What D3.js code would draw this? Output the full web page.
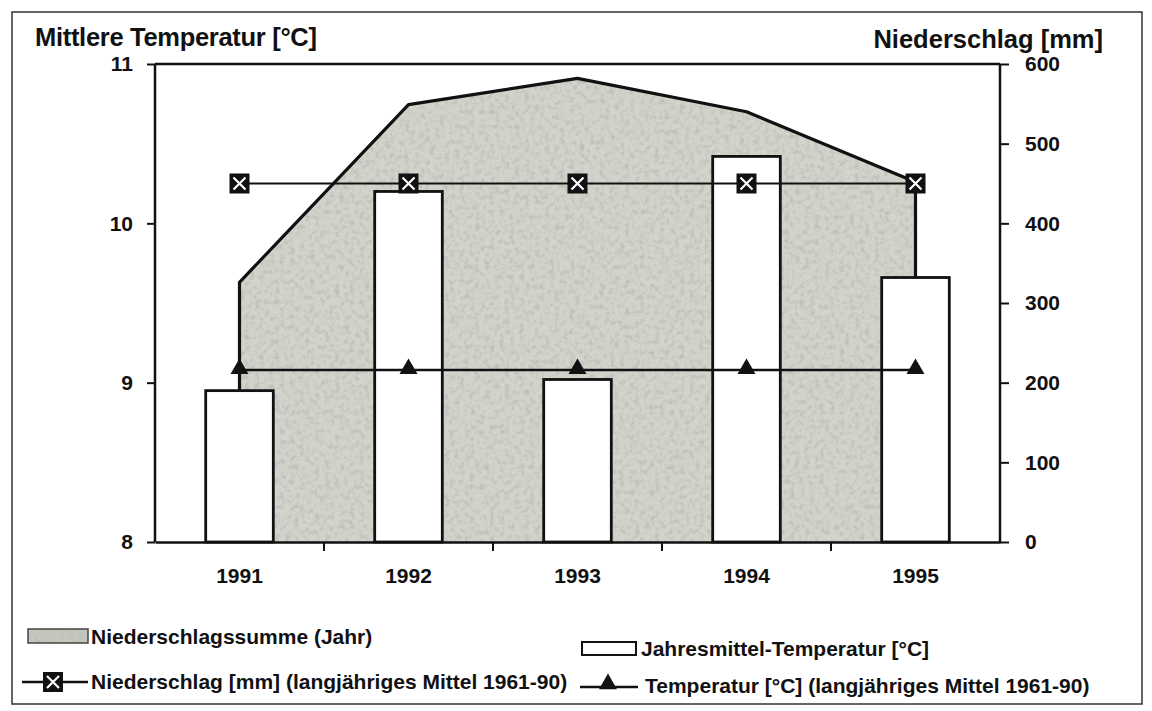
<!DOCTYPE html>
<html>
<head>
<meta charset="utf-8">
<script src="https://cdn.jsdelivr.net/npm/d3@7"></script>
<style>
  body { margin: 0; background: #fff; }
  text { font-family: "Liberation Sans", Arial, sans-serif; font-weight: bold; fill: #111; }
</style>
</head>
<body>
<div id="vis"></div>
<script>
// data
var years = ["1991", "1992", "1993", "1994", "1995"];
var precipSum = [326, 549, 582, 540, 452];        // Niederschlagssumme (Jahr), mm
var tempMean = [8.95, 10.2, 9.02, 10.42, 9.66];  // Jahresmittel-Temperatur, °C
var precipLongTerm = [450, 450, 450, 450, 450];  // Niederschlag 1961-90, mm
var tempLongTerm = [9.08, 9.08, 9.08, 9.08, 9.08]; // Temperatur 1961-90, °C
var tempTicks = [8, 9, 10, 11];
var precipTicks = [0, 100, 200, 300, 400, 500, 600];

var width = 1152, height = 711;
var margin = {top: 64, right: 152, bottom: 169, left: 155};

var svg = d3.select("#vis").append("svg")
  .attr("width", width)
  .attr("height", height);

// grainy grey fill like the scanned print
var defs = svg.append("defs");
var filt = defs.append("filter").attr("id", "grain")
  .attr("x", 0).attr("y", 0).attr("width", 1).attr("height", 1);
filt.append("feTurbulence").attr("type", "fractalNoise")
  .attr("baseFrequency", 0.2).attr("numOctaves", 3).attr("seed", 4).attr("result", "n");
filt.append("feColorMatrix").attr("in", "n").attr("type", "matrix")
  .attr("values", "0 0 0 0 0.50  0 0 0 0 0.52  0 0 0 0 0.48  2.6 0 0 0 -1.15")
  .attr("result", "c");
filt.append("feComposite").attr("in", "c").attr("in2", "SourceGraphic")
  .attr("operator", "in").attr("result", "t");
var merge = filt.append("feMerge");
merge.append("feMergeNode").attr("in", "SourceGraphic");
merge.append("feMergeNode").attr("in", "t");

// outer frame
svg.append("rect")
  .attr("x", 12).attr("y", 12).attr("width", 1130).attr("height", 692)
  .attr("fill", "none").attr("stroke", "#333").attr("stroke-width", 1.5);

var x0 = margin.left, x1 = width - margin.right;
var yTop = margin.top, yBot = height - margin.bottom;

var x = d3.scaleBand().domain(years).range([x0, x1])
  .paddingInner(0.6).paddingOuter(0.3);
var step = x.step();
var cx = function(y) { return x(y) + x.bandwidth() / 2; };

var yT = d3.scaleLinear().domain([8, 11]).range([yBot, yTop]);
var yP = d3.scaleLinear().domain([0, 600]).range([yBot, yTop]);

var rows = years.map(function(y, i) {
  return {year: y, p: precipSum[i], t: tempMean[i], pl: precipLongTerm[i], tl: tempLongTerm[i]};
});

// precipitation area
var area = d3.area()
  .x(function(d) { return cx(d.year); })
  .y0(yP(0))
  .y1(function(d) { return yP(d.p); });

svg.append("path")
  .datum(rows)
  .attr("d", area)
  .attr("fill", "#d2d4cb")
  .attr("filter", "url(#grain)");

var outline = [{year: years[0], p: 0}].concat(rows, [{year: years[years.length - 1], p: 0}]);
svg.append("path")
  .datum(outline)
  .attr("d", d3.line().x(function(d) { return cx(d.year); }).y(function(d) { return yP(d.p); }))
  .attr("fill", "none").attr("stroke", "#111").attr("stroke-width", 3.2)
  .attr("stroke-linejoin", "round");

// temperature bars
svg.selectAll(".bar").data(rows).enter().append("rect")
  .attr("class", "bar")
  .attr("x", function(d) { return x(d.year); })
  .attr("width", x.bandwidth())
  .attr("y", function(d) { return yT(d.t); })
  .attr("height", function(d) { return yT(8) - yT(d.t); })
  .attr("fill", "#fff").attr("stroke", "#111").attr("stroke-width", 2.8);

// long-term precipitation line with X markers
svg.append("path")
  .datum(rows)
  .attr("d", d3.line().x(function(d) { return cx(d.year); }).y(function(d) { return yP(d.pl); }))
  .attr("fill", "none").attr("stroke", "#111").attr("stroke-width", 2);

function xMarker(g, mx, my) {
  g.append("rect").attr("x", mx - 10).attr("y", my - 10).attr("width", 20).attr("height", 20)
    .attr("fill", "#111");
  g.append("path")
    .attr("d", "M" + (mx - 6) + "," + (my - 6) + "L" + (mx + 6) + "," + (my + 6) +
               "M" + (mx + 6) + "," + (my - 6) + "L" + (mx - 6) + "," + (my + 6))
    .attr("stroke", "#fff").attr("stroke-width", 2.2);
}
rows.forEach(function(d) { xMarker(svg, cx(d.year), yP(d.pl)); });

// long-term temperature line with triangles
svg.append("path")
  .datum(rows)
  .attr("d", d3.line().x(function(d) { return cx(d.year); }).y(function(d) { return yT(d.tl); }))
  .attr("fill", "none").attr("stroke", "#111").attr("stroke-width", 2.5);

var tri = d3.symbol().type(d3.symbolTriangle).size(140);
svg.selectAll(".tri").data(rows).enter().append("path")
  .attr("class", "tri")
  .attr("d", tri)
  .attr("transform", function(d) { return "translate(" + cx(d.year) + "," + (yT(d.tl) - 1) + ")"; })
  .attr("fill", "#111");

// plot frame
svg.append("line").attr("x1", x0).attr("x2", x1).attr("y1", yTop).attr("y2", yTop)
  .attr("stroke", "#111").attr("stroke-width", 2.5);

// axes
var left = svg.append("g").attr("transform", "translate(" + x0 + ",0)")
  .call(d3.axisLeft(yT).tickValues(tempTicks).tickSize(8).tickPadding(14).tickFormat(d3.format("d")));
var right = svg.append("g").attr("transform", "translate(" + x1 + ",0)")
  .call(d3.axisRight(yP).tickValues(precipTicks).tickSize(9).tickPadding(16).tickFormat(d3.format("d")));
var bottom = svg.append("g").attr("transform", "translate(0," + yBot + ")")
  .call(d3.axisBottom(x).tickSize(0).tickPadding(26));

[left, right, bottom].forEach(function(a) {
  a.select(".domain").attr("stroke", "#111").attr("stroke-width", 2.5);
  a.selectAll(".tick line").attr("stroke", "#111").attr("stroke-width", 2);
  a.selectAll("text").attr("font-size", 21).attr("fill", "#111")
    .attr("font-family", "Liberation Sans, Arial, sans-serif").attr("font-weight", "bold");
});
left.select(".domain").attr("d", "M0," + yTop + "V" + yBot);
right.select(".domain").attr("d", "M0," + yTop + "V" + yBot);

// category boundary ticks on the x axis
svg.selectAll(".xtick").data(years.slice(1)).enter().append("line")
  .attr("x1", function(d) { return x(d) - step * 0.3; })
  .attr("x2", function(d) { return x(d) - step * 0.3; })
  .attr("y1", yBot).attr("y2", yBot + 9)
  .attr("stroke", "#111").attr("stroke-width", 2);

// axis titles
svg.append("text").attr("x", 35).attr("y", 46).attr("font-size", 25.5)
  .style("letter-spacing", "-0.3px")
  .text("Mittlere Temperatur [°C]");
svg.append("text").attr("x", 1103).attr("y", 48).attr("font-size", 25.5)
  .attr("text-anchor", "end")
  .text("Niederschlag [mm]");

// legend
var lg = svg.append("g").attr("font-size", 21);
lg.append("rect").attr("x", 28).attr("y", 629).attr("width", 60).attr("height", 14)
  .attr("fill", "#c4c7bd").attr("filter", "url(#grain)");
lg.append("rect").attr("x", 28).attr("y", 629).attr("width", 60).attr("height", 14)
  .attr("fill", "none").attr("stroke", "#444").attr("stroke-width", 1.5);
lg.append("text").attr("x", 91).attr("y", 644).text("Niederschlagssumme (Jahr)");

lg.append("line").attr("x1", 22).attr("x2", 88).attr("y1", 682).attr("y2", 682)
  .attr("stroke", "#111").attr("stroke-width", 2.5);
xMarker(lg, 53, 682);
lg.append("text").attr("x", 91).attr("y", 689).text("Niederschlag [mm] (langjähriges Mittel 1961-90)");

lg.append("rect").attr("x", 582).attr("y", 642).attr("width", 54).attr("height", 13)
  .attr("fill", "#fff").attr("stroke", "#111").attr("stroke-width", 2);
lg.append("text").attr("x", 641).attr("y", 656).text("Jahresmittel-Temperatur [°C]");

lg.append("line").attr("x1", 580).attr("x2", 638).attr("y1", 687).attr("y2", 687)
  .attr("stroke", "#111").attr("stroke-width", 2.5);
lg.append("path").attr("d", tri).attr("transform", "translate(608,684)").attr("fill", "#111");
lg.append("text").attr("x", 645).attr("y", 693).text("Temperatur [°C] (langjähriges Mittel 1961-90)");
</script>
</body>
</html>
